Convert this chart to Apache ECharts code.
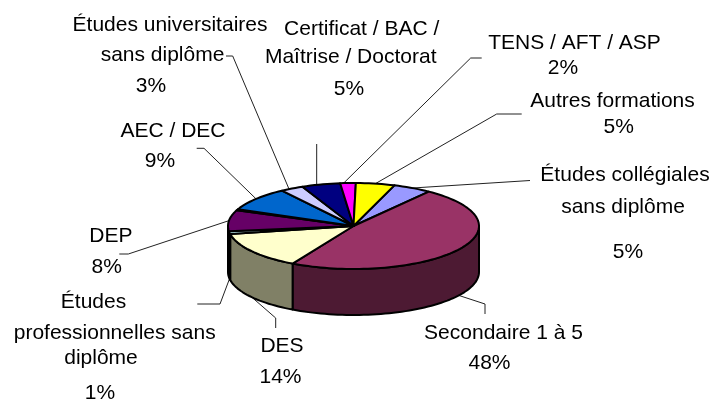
<!DOCTYPE html>
<html>
<head>
<meta charset="utf-8">
<style>
  html, body { margin: 0; padding: 0; background: #fff; }
  #chart { width: 716px; height: 400px; }
</style>
<script src="https://cdn.jsdelivr.net/npm/echarts@6/dist/echarts.min.js"></script>
</head>
<body>
<div id="chart"></div>
<script>
// data, in drawing order (clockwise, starting at the periwinkle slice)
const categories = [
  'Études collégiales sans diplôme',
  'Secondaire 1 à 5',
  'DES',
  'Études professionnelles sans diplôme',
  'DEP',
  '', // thin slice, no label in the picture
  'AEC / DEC',
  'Études universitaires sans diplôme',
  'Certificat / BAC / Maîtrise / Doctorat',
  'TENS / AFT / ASP',
  'Autres formations'
]
const values = [5, 48, 14, 1, 8, 0.4, 9, 3, 5, 2, 5]
const labelText = [
  ['Études collégiales', 'sans diplôme', '5%'],
  ['Secondaire 1 à 5', '48%'],
  ['DES', '14%'],
  ['Études', 'professionnelles sans', 'diplôme', '1%'],
  ['DEP', '8%'],
  [],
  ['AEC / DEC', '9%'],
  ['Études universitaires', 'sans diplôme', '3%'],
  ['Certificat / BAC /', 'Maîtrise / Doctorat', '5%'],
  ['TENS / AFT / ASP', '2%'],
  ['Autres formations', '5%']
]

// look of the chart
const topColors = ['#9999FF', '#993366', '#FFFFCC', '#CCFFFF', '#660066', '#FF8080', '#0066CC', '#CCCCFF', '#000080', '#FF00FF', '#FFFF00']
const sideColors = ['#4d4d80', '#4d1a33', '#808066', '#668080', '#330033', '#804040', '#003366', '#666680', '#000040', '#800080', '#808000']
const pie = { cx: 353.5, cy: 226, rx: 125.5, ry: 43, depth: 46, start: 19 }
const labelPos = [
  [[625, 175], [623, 207], [628, 252]],
  [[503.5, 333], [489.5, 363]],
  [[282, 346], [280.5, 377]],
  [[93.5, 302], [114.7, 333], [101, 358], [100, 393]],
  [[110.8, 236], [106.7, 267]],
  [],
  [[173, 131], [160, 161]],
  [[170, 25], [162.5, 55], [151, 86]],
  [[361.7, 29], [350.7, 57], [349, 89]],
  [[574.5, 43], [563, 68]],
  [[612.5, 101], [618.7, 127]]
]
// leader line points on the label side, the pie end comes from the slice angle
const leaderPos = [
  [[530, 180.5]],
  [[485, 314], [485, 304]],
  [[275.7, 328], [275.7, 318]],
  [[197.3, 304], [220, 304]],
  [[119.3, 254], [128.3, 254]],
  [],
  [[196.7, 148.3], [204, 148.3]],
  [[226, 56], [232.7, 56]],
  [[316.7, 144]],
  [[481.7, 58], [470.7, 58]],
  [[521.7, 114], [496.7, 114]]
]
// small shift in degrees of the leader end, the original is not exactly at mid slice
const leaderShift = [0, 0, 0, 0, 0, 0, 0, -1.5, -2, -2, 0]

const total = values.reduce((a, b) => a + b, 0)
const angles = []
let acc = pie.start
values.forEach(v => {
  angles.push([acc, acc + v / total * 360])
  acc += v / total * 360
})

// angle in degrees, clockwise from north
function rimPoint (deg, drop) {
  const r = deg * Math.PI / 180
  return [pie.cx + pie.rx * Math.sin(r), pie.cy - pie.ry * Math.cos(r) + (drop || 0)]
}

function arcPoints (from, to, drop) {
  const pts = []
  const n = Math.max(2, Math.ceil((to - from) / 2))
  for (let i = 0; i <= n; i++) {
    pts.push(rimPoint(from + (to - from) * i / n, drop))
  }
  return pts
}

function renderSides (params, api) {
  const i = api.value(0)
  const from = Math.max(angles[i][0], 90)
  const to = Math.min(angles[i][1], 270)
  if (to <= from) return { type: 'group', children: [] }
  return {
    type: 'polygon',
    shape: { points: arcPoints(from, to, 0).concat(arcPoints(from, to, pie.depth).reverse()) },
    style: { fill: sideColors[i], stroke: '#000', lineWidth: 2, lineJoin: 'round' }
  }
}

function renderTops (params, api) {
  const i = api.value(0)
  return {
    type: 'polygon',
    shape: { points: [[pie.cx, pie.cy]].concat(arcPoints(angles[i][0], angles[i][1], 0)) },
    style: { fill: topColors[i], stroke: '#000', lineWidth: 2, lineJoin: 'round' }
  }
}

function renderLabels (params, api) {
  const i = api.value(0)
  const children = []
  if (leaderPos[i].length) {
    const mid = ((angles[i][0] + angles[i][1]) / 2 + leaderShift[i]) % 360
    // lower half of the pie: the line stops on the bottom edge of the side
    const lower = mid > 90 && mid < 270
    children.push({
      type: 'polyline',
      shape: { points: leaderPos[i].concat([rimPoint(mid, lower ? pie.depth : 0)]) },
      style: { fill: null, stroke: '#222', lineWidth: 1 }
    })
  }
  labelText[i].forEach((line, k) => {
    children.push({
      type: 'text',
      style: {
        text: line,
        x: labelPos[i][k][0],
        y: labelPos[i][k][1],
        align: 'center',
        verticalAlign: 'middle',
        fill: '#000',
        font: '21px "Liberation Sans", Arial, sans-serif'
      }
    })
  })
  return { type: 'group', children: children }
}

const rows = categories.map((c, i) => [i, values[i], c])

const chart = echarts.init(document.getElementById('chart'), null, { renderer: 'canvas' })
chart.setOption({
  animation: false,
  backgroundColor: '#fff',
  series: [
    { type: 'custom', coordinateSystem: 'none', silent: true, z: 1, data: rows, renderItem: renderLabels },
    { type: 'custom', coordinateSystem: 'none', silent: true, z: 2, data: rows, renderItem: renderSides },
    { type: 'custom', coordinateSystem: 'none', silent: true, z: 3, data: rows, renderItem: renderTops }
  ]
})
</script>
</body>
</html>
